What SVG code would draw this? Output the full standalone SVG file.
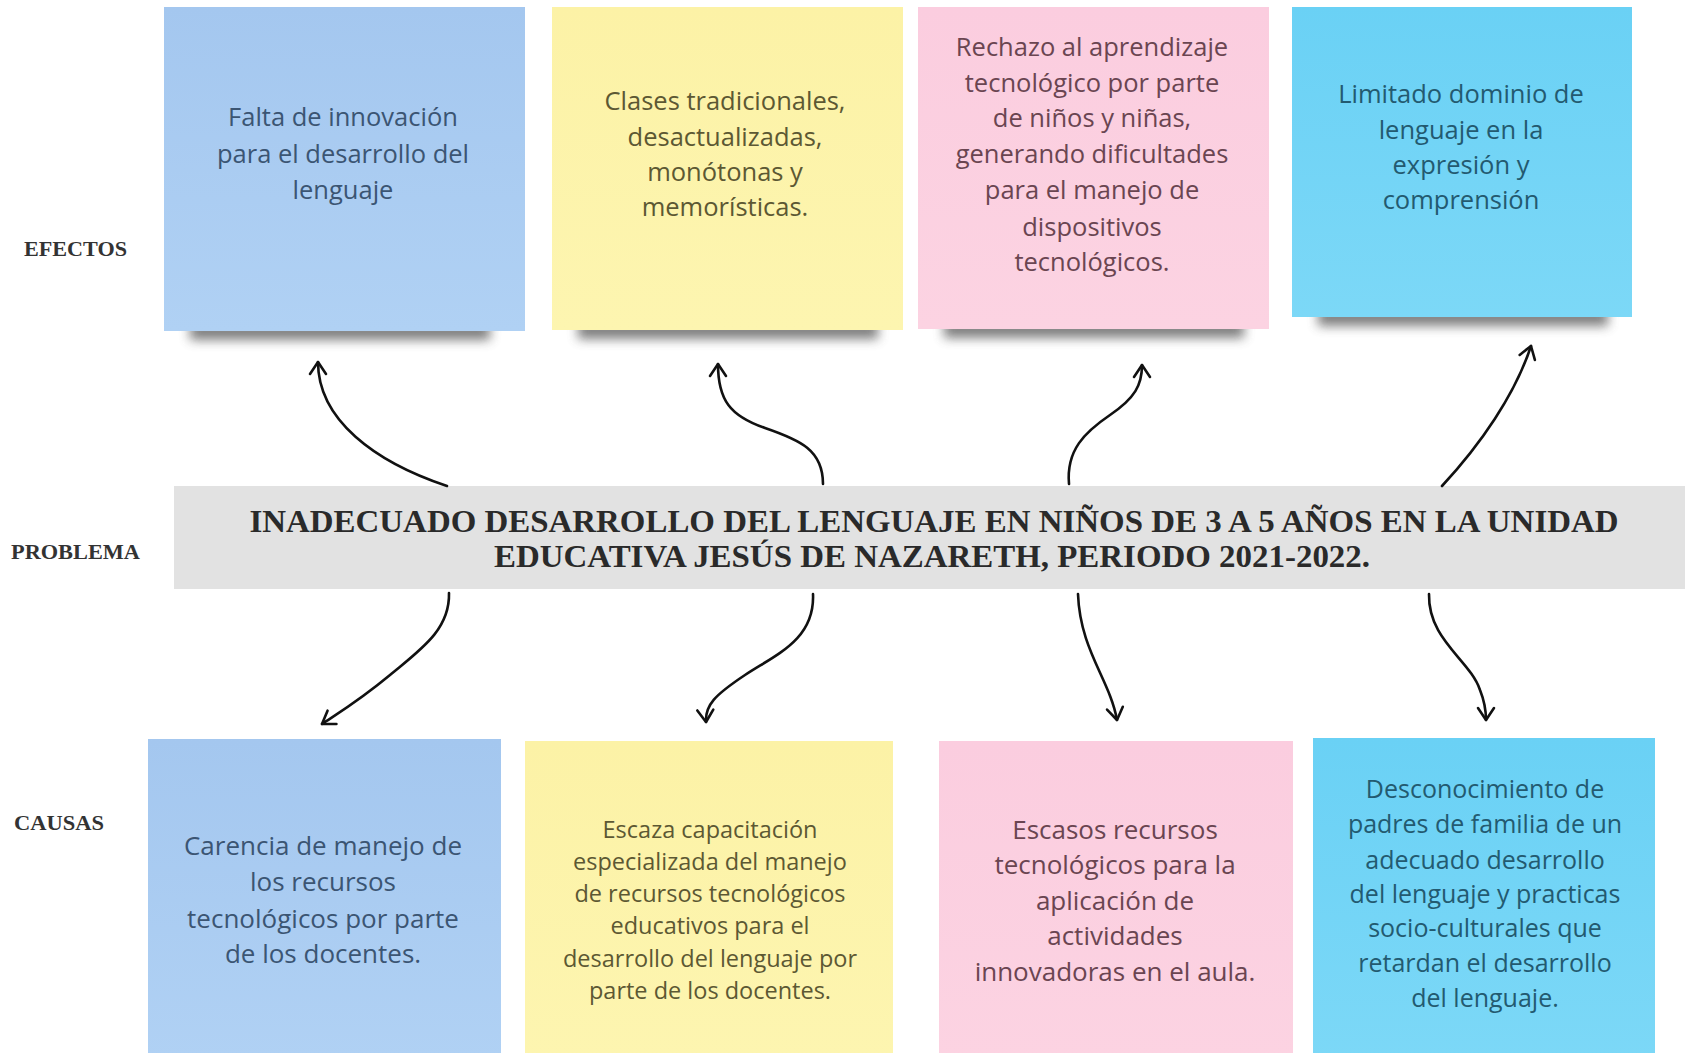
<svg xmlns="http://www.w3.org/2000/svg" width="1685" height="1053" viewBox="0 0 1685 1053">
<defs>
<style>
.lbl{font-family:"Liberation Serif","Times New Roman",serif;font-weight:bold;font-size:21px;fill:#333}
.prob{font-family:"Liberation Serif","Times New Roman",serif;font-weight:bold;font-size:32px;fill:#2a2a2a;text-anchor:middle}
.note{font-family:"Open Sans","Noto Sans",sans-serif;text-anchor:middle}
.e{font-size:25.5px}
.conn{fill:none;stroke:#111;stroke-width:2.6;stroke-linecap:round;marker-end:url(#arr)}
.shadow{fill:#4a4a4a;opacity:0.7;filter:url(#blur)}
</style>
<filter id="blur" x="-20%" y="-100%" width="140%" height="300%"><feGaussianBlur stdDeviation="5.5"/></filter>
<marker id="arr" viewBox="0 0 20 20" refX="17" refY="10" markerWidth="20" markerHeight="20" markerUnits="userSpaceOnUse" orient="auto">
<path d="M5,2 L17,10 L5,18" fill="none" stroke="#111" stroke-width="2.6" stroke-linecap="round" stroke-linejoin="round"/>
</marker>
<linearGradient id="gBlue" x1="0" y1="0" x2="0" y2="1"><stop offset="0" stop-color="#a4c7ef"/><stop offset="1" stop-color="#b0d1f4"/></linearGradient>
<linearGradient id="gYel" x1="0" y1="0" x2="0" y2="1"><stop offset="0" stop-color="#fcf2a6"/><stop offset="1" stop-color="#fdf5b0"/></linearGradient>
<linearGradient id="gPink" x1="0" y1="0" x2="0" y2="1"><stop offset="0" stop-color="#fbcddf"/><stop offset="1" stop-color="#fcd3e2"/></linearGradient>
<linearGradient id="gCyan" x1="0" y1="0" x2="0" y2="1"><stop offset="0" stop-color="#6ad1f5"/><stop offset="1" stop-color="#7cd8f7"/></linearGradient>
</defs>
<rect width="1685" height="1053" fill="#ffffff"/>

<text class="lbl" x="24" y="256" textLength="103" lengthAdjust="spacingAndGlyphs">EFECTOS</text>
<text class="lbl" x="11" y="559" textLength="129" lengthAdjust="spacingAndGlyphs">PROBLEMA</text>
<text class="lbl" x="14" y="830" textLength="90" lengthAdjust="spacingAndGlyphs">CAUSAS</text>

<g id="problem">
<rect x="174" y="486" width="1511" height="103" fill="#e2e2e2"/>
<text class="prob" x="934" y="532" textLength="1369" lengthAdjust="spacingAndGlyphs">INADECUADO DESARROLLO DEL LENGUAJE EN NIÑOS DE 3 A 5 AÑOS EN LA UNIDAD</text>
<text class="prob" x="932" y="567" textLength="876" lengthAdjust="spacingAndGlyphs">EDUCATIVA JESÚS DE NAZARETH, PERIODO 2021-2022.</text>
</g>

<g id="efecto1">
<rect class="shadow" x="190" y="322" width="300" height="18"/>
<rect x="164" y="7" width="361" height="324" fill="url(#gBlue)"/>
<text class="note e" fill="#3b5573"><tspan x="343" y="126">Falta de innovación</tspan><tspan x="343" y="163">para el desarrollo del</tspan><tspan x="343" y="199">lenguaje</tspan></text>
</g>

<g id="efecto2">
<rect class="shadow" x="578" y="321" width="300" height="18"/>
<rect x="552" y="7" width="351" height="323" fill="url(#gYel)"/>
<text class="note e" fill="#5c5833"><tspan x="725" y="110">Clases tradicionales,</tspan><tspan x="725" y="146">desactualizadas,</tspan><tspan x="725" y="181">monótonas y</tspan><tspan x="725" y="216">memorísticas.</tspan></text>
</g>

<g id="efecto3">
<rect class="shadow" x="944" y="320" width="300" height="18"/>
<rect x="918" y="7" width="351" height="322" fill="url(#gPink)"/>
<text class="note e" fill="#6a4551"><tspan x="1092" y="56">Rechazo al aprendizaje</tspan><tspan x="1092" y="92">tecnológico por parte</tspan><tspan x="1092" y="127">de niños y niñas,</tspan><tspan x="1092" y="163">generando dificultades</tspan><tspan x="1092" y="199">para el manejo de</tspan><tspan x="1092" y="236">dispositivos</tspan><tspan x="1092" y="271">tecnológicos.</tspan></text>
</g>

<g id="efecto4">
<rect class="shadow" x="1318" y="308" width="290" height="18"/>
<rect x="1292" y="7" width="340" height="310" fill="url(#gCyan)"/>
<text class="note e" fill="#235a70"><tspan x="1461" y="103">Limitado dominio de</tspan><tspan x="1461" y="139">lenguaje en la</tspan><tspan x="1461" y="174">expresión y</tspan><tspan x="1461" y="209">comprensión</tspan></text>
</g>

<g id="causa1">
<rect x="148" y="739" width="353" height="320" fill="url(#gBlue)"/>
<text class="note" font-size="26" fill="#3b5573"><tspan x="323" y="855">Carencia de manejo de</tspan><tspan x="323" y="891">los recursos</tspan><tspan x="323" y="928">tecnológicos por parte</tspan><tspan x="323" y="963">de los docentes.</tspan></text>
</g>

<g id="causa2">
<rect x="525" y="741" width="368" height="318" fill="url(#gYel)"/>
<text class="note" font-size="23.5" fill="#5c5833"><tspan x="710" y="838">Escaza capacitación</tspan><tspan x="710" y="870">especializada del manejo</tspan><tspan x="710" y="902">de recursos tecnológicos</tspan><tspan x="710" y="934">educativos para el</tspan><tspan x="710" y="967">desarrollo del lenguaje por</tspan><tspan x="710" y="999">parte de los docentes.</tspan></text>
</g>

<g id="causa3">
<rect x="939" y="741" width="354" height="318" fill="url(#gPink)"/>
<text class="note" font-size="26" fill="#6a4551"><tspan x="1115" y="839">Escasos recursos</tspan><tspan x="1115" y="874">tecnológicos para la</tspan><tspan x="1115" y="910">aplicación de</tspan><tspan x="1115" y="945">actividades</tspan><tspan x="1115" y="981">innovadoras en el aula.</tspan></text>
</g>

<g id="causa4">
<rect x="1313" y="738" width="342" height="321" fill="url(#gCyan)"/>
<text class="note" font-size="25" fill="#235a70"><tspan x="1485" y="798">Desconocimiento de</tspan><tspan x="1485" y="833">padres de familia de un</tspan><tspan x="1485" y="869">adecuado desarrollo</tspan><tspan x="1485" y="903">del lenguaje y practicas</tspan><tspan x="1485" y="937">socio-culturales que</tspan><tspan x="1485" y="972">retardan el desarrollo</tspan><tspan x="1485" y="1007">del lenguaje.</tspan></text>
</g>

<g id="connectors">
<path class="conn" d="M447,486 C375,462 318,420 318,362"/>
<path class="conn" d="M823,484 C823,450 800,440 765,428 C730,416 718,400 718,364"/>
<path class="conn" d="M1069,484 C1066,450 1085,432 1110,415 C1135,398 1142,385 1142,365"/>
<path class="conn" d="M1442,486 C1480,445 1515,395 1531,346"/>
<path class="conn" d="M449,593 C450,630 420,650 390,675 C360,700 340,712 322,724"/>
<path class="conn" d="M813,594 C815,640 775,655 745,675 C715,695 705,705 706,722"/>
<path class="conn" d="M1078,594 C1080,650 1110,680 1117,720"/>
<path class="conn" d="M1429,594 C1428,640 1470,660 1480,690 C1484,700 1486,710 1486,720"/>
</g>
</svg>
